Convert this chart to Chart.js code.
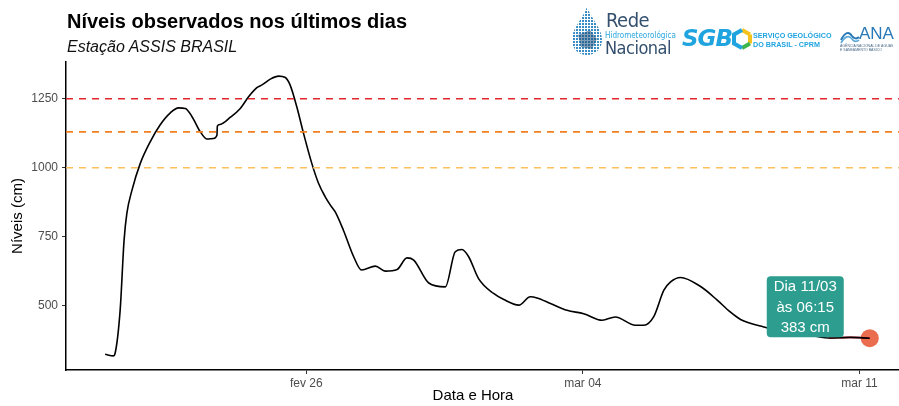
<!DOCTYPE html>
<html>
<head>
<meta charset="utf-8">
<script src="https://cdn.jsdelivr.net/npm/chart.js@4.4.1/dist/chart.umd.min.js"></script>
<style>
  body { margin: 0; background: #fff; }
  #wrap { position: relative; width: 899px; height: 406px; overflow: hidden; font-family: "Liberation Sans", Arial, sans-serif; }
  #grafico { position: absolute; left: 0; top: 0; }
  .titulo { position: absolute; left: 67px; top: 10px; font-size: 20px; font-weight: bold; color: #000; white-space: nowrap; }
  .subtitulo { position: absolute; left: 67px; top: 38px; font-size: 16px; font-style: italic; color: #111; white-space: nowrap; }
  .logo { position: absolute; white-space: nowrap; }
</style>
</head>
<body>
<div id="wrap">
  <canvas id="grafico" width="899" height="406"></canvas>
  <div class="titulo">Níveis observados nos últimos dias</div>
  <div class="subtitulo">Estação ASSIS BRASIL</div>

  <!-- logos -->
  <svg class="logo" style="left:570px;top:5px" width="34" height="52" viewBox="0 0 34 52">
    <defs>
      <pattern id="pontos" width="3" height="3" patternUnits="userSpaceOnUse">
        <rect width="2" height="2" fill="#3a8cc4"/>
      </pattern>
    </defs>
    <path d="M17 2 C22 15 32 23 32 35 C32 44 25 50 17 50 C9 50 2 44 2 35 C2 23 12 15 17 2 Z" fill="url(#pontos)"/>
    <path d="M8 30 L20 25 L27 34 L22 44 L11 42 Z" fill="#1b4f7a" opacity="0.55"/>
  </svg>
  <div class="logo" style="left:606px;top:8px;font-family:'DejaVu Sans Condensed','Liberation Sans Narrow',sans-serif;font-size:20px;color:#34506e;letter-spacing:-0.5px">Rede</div>
  <div class="logo" style="left:605px;top:31px;font-family:'Liberation Sans Narrow','DejaVu Sans Condensed',sans-serif;font-size:8px;color:#2aa6de">Hidrometeorológica</div>
  <div class="logo" style="left:605px;top:37px;font-family:'DejaVu Sans Condensed','Liberation Sans Narrow',sans-serif;font-size:18px;color:#34506e;letter-spacing:-0.5px">Nacional</div>

  <div class="logo" style="left:682px;top:25px;font-family:'DejaVu Sans',sans-serif;font-size:23px;font-weight:bold;font-style:italic;color:#20a4e0;letter-spacing:-1px">SGB</div>
  <svg class="logo" style="left:731px;top:28px" width="22" height="22" viewBox="0 0 22 22">
    <polyline points="11,2 19,6.5" stroke="#f4c21b" stroke-width="4" fill="none"/>
    <polyline points="19,6.5 19,15.5" stroke="#f4c21b" stroke-width="4" fill="none"/>
    <polyline points="19,15.5 11,20" stroke="#3cb54a" stroke-width="4" fill="none"/>
    <polyline points="11,20 3,15.5 3,6.5 11,2" stroke="#20a4e0" stroke-width="4" fill="none"/>
  </svg>
  <div class="logo" style="left:753px;top:31px;font-family:'Liberation Sans',Arial,sans-serif;font-size:7.2px;font-weight:bold;color:#20a4e0;line-height:9px">SERVIÇO GEOLÓGICO<br>DO BRASIL - CPRM</div>

  <svg class="logo" style="left:840px;top:28px" width="20" height="16" viewBox="0 0 20 16">
    <path d="M1 12 C5 4 9 3 12 8 C14 11 17 11 19 9" stroke="#2a79b7" stroke-width="2" fill="none"/>
    <path d="M1 15 C5 8 9 7 12 11 C14 14 17 14 19 12" stroke="#5aa9d8" stroke-width="1.6" fill="none"/>
  </svg>
  <div class="logo" style="left:859px;top:24px;font-family:'Liberation Sans',Arial,sans-serif;font-size:17px;color:#2a79b7">ANA</div>
  <div class="logo" style="left:840px;top:44px;font-family:'Liberation Sans',Arial,sans-serif;font-size:3.5px;color:#4a6a8a;line-height:4px">AGÊNCIA NACIONAL DE ÁGUAS<br>E SANEAMENTO BÁSICO</div>
</div>

<script>
// dias contados a partir de 1 de fevereiro de 2024 (fev 26 = 26, mar 04 = 33, mar 11 = 40)
const dias = [20.91, 21.12, 21.16, 21.29, 21.39, 21.46, 21.59, 21.80, 22.05, 22.30,
              22.56, 22.77, 22.94, 23.11, 23.32, 23.49, 23.65, 23.74, 23.75, 23.82,
              24.08, 24.33, 24.54, 24.75, 24.88, 25.09, 25.30, 25.47, 25.59, 25.76,
              25.93, 26.14, 26.31, 26.48, 26.61, 26.73, 26.94, 27.20, 27.40, 27.75,
              28.00, 28.30, 28.55, 28.72, 29.10, 29.52, 29.77, 29.94, 30.11, 30.36,
              30.74, 31.00, 31.38, 31.67, 31.84, 32.18, 32.60, 33.02, 33.49, 33.82,
              34.33, 34.54, 34.79, 35.05, 35.22, 35.47, 35.97, 36.40, 36.73, 36.99,
              37.58, 38.00, 38.51, 38.89, 39.22, 39.77, 40.26];
const niveis = [325, 319, 327, 484, 738, 835, 919, 1016, 1094, 1155,
                1199, 1217, 1215, 1185, 1130, 1104, 1106, 1118, 1151, 1157,
                1183, 1215, 1257, 1290, 1300, 1321, 1332, 1327, 1300, 1221,
                1125, 1016, 944, 895, 865, 841, 774, 678, 630, 644,
                626, 632, 674, 666, 583, 569, 696, 704, 678, 599,
                545, 523, 503, 533, 529, 509, 484, 472, 448, 460,
                430, 430, 460, 557, 587, 603, 571, 521, 478, 451,
                424, 410, 398, 390, 384, 386, 383];

const cotas = [1250, 1130, 1000];
const coresCotas = ['#e4262d', '#f3801f', '#fcc05c'];

const yTicks = [500, 750, 1000, 1250];
const xTicks = [26, 33, 40];
const xTickLabels = ['fev 26', 'mar 04', 'mar 11'];

const rotuloUltimo = ['Dia 11/03', 'às 06:15', '383 cm'];

const xMin = 19.92, xMax = 41.0;
const yMin = 268, yMax = 1383;

const fonte = "'Liberation Sans', Arial, sans-serif";

const serie = dias.map((d, i) => ({ x: d, y: niveis[i] }));
const n = serie.length;

const datasets = cotas.map((c, i) => ({
    data: [{ x: xMin, y: c }, { x: xMax, y: c }],
    borderColor: coresCotas[i],
    borderWidth: 1.6,
    borderDash: [7, 6],
    pointRadius: 0
}));

datasets.push({
    data: serie,
    borderColor: '#000',
    borderWidth: 1.6,
    pointRadius: 0,
    cubicInterpolationMode: 'monotone'
});

// trecho final destacado em vermelho
datasets.push({
    data: serie.slice(n - 3),
    borderColor: '#e8101a',
    borderWidth: 1.6,
    pointRadius: 0,
    cubicInterpolationMode: 'monotone'
});

datasets.push({
    data: [serie[n - 1]],
    showLine: false,
    pointRadius: 9,
    pointBackgroundColor: '#ea6d4f',
    pointBorderWidth: 0
});

function caixaArredondada(ctx, x, y, w, h, r) {
    ctx.beginPath();
    ctx.moveTo(x + r, y);
    ctx.lineTo(x + w - r, y);
    ctx.quadraticCurveTo(x + w, y, x + w, y + r);
    ctx.lineTo(x + w, y + h - r);
    ctx.quadraticCurveTo(x + w, y + h, x + w - r, y + h);
    ctx.lineTo(x + r, y + h);
    ctx.quadraticCurveTo(x, y + h, x, y + h - r);
    ctx.lineTo(x, y + r);
    ctx.quadraticCurveTo(x, y, x + r, y);
    ctx.closePath();
}

const extras = {
    id: 'extras',
    afterDatasetsDraw(chart) {
        const ctx = chart.ctx;
        const sx = chart.scales.x, sy = chart.scales.y;
        const px = sx.getPixelForValue(serie[n - 1].x);
        const py = sy.getPixelForValue(serie[n - 1].y);

        // rótulo do último valor
        const w = 77, h = 61;
        const bx = px - 103, by = py - h - 1;
        ctx.save();
        ctx.fillStyle = '#2c9d8e';
        caixaArredondada(ctx, bx, by, w, h, 4);
        ctx.fill();
        ctx.fillStyle = '#fff';
        ctx.font = '15px ' + fonte;
        ctx.textAlign = 'center';
        ctx.textBaseline = 'middle';
        rotuloUltimo.forEach((t, i) => ctx.fillText(t, bx + w / 2, by + 11 + i * 20.5));
        ctx.restore();
    },
    afterDraw(chart) {
        const ctx = chart.ctx;
        const a = chart.chartArea;
        ctx.save();
        ctx.fillStyle = '#000';
        ctx.font = '15px ' + fonte;
        ctx.textAlign = 'center';
        ctx.textBaseline = 'middle';
        ctx.fillText('Data e Hora', 473, 396);
        ctx.translate(18, (a.top + a.bottom) / 2);
        ctx.rotate(-Math.PI / 2);
        ctx.fillText('Níveis (cm)', 0, 0);
        ctx.restore();
    }
};

new Chart(document.getElementById('grafico'), {
    type: 'line',
    data: { datasets: datasets },
    options: {
        responsive: false,
        animation: false,
        layout: { autoPadding: false, padding: { top: 62, left: 0, right: 0, bottom: 0 } },
        plugins: { legend: { display: false }, tooltip: { enabled: false } },
        scales: {
            x: {
                type: 'linear',
                min: xMin,
                max: xMax,
                afterBuildTicks: s => { s.ticks = xTicks.map(v => ({ value: v })); },
                afterFit: s => { s.height = 36; s.paddingLeft = 0; s.paddingRight = 0; },
                ticks: {
                    color: '#4d4d4d',
                    font: { family: fonte, size: 12 },
                    padding: 2,
                    maxRotation: 0,
                    callback: v => xTickLabels[xTicks.indexOf(v)]
                },
                grid: { drawOnChartArea: false, tickLength: 4, tickColor: '#333', tickWidth: 1 },
                border: { color: '#000', width: 1.5 }
            },
            y: {
                type: 'linear',
                min: yMin,
                max: yMax,
                afterBuildTicks: s => { s.ticks = yTicks.map(v => ({ value: v })); },
                afterFit: s => { s.width = 66; s.paddingTop = 0; s.paddingBottom = 0; },
                ticks: {
                    color: '#4d4d4d',
                    font: { family: fonte, size: 12 },
                    padding: 4,
                    callback: v => String(v)
                },
                grid: { drawOnChartArea: false, tickLength: 4, tickColor: '#333', tickWidth: 1 },
                border: { color: '#000', width: 1.5 }
            }
        }
    },
    plugins: [extras]
});
</script>
</body>
</html>
